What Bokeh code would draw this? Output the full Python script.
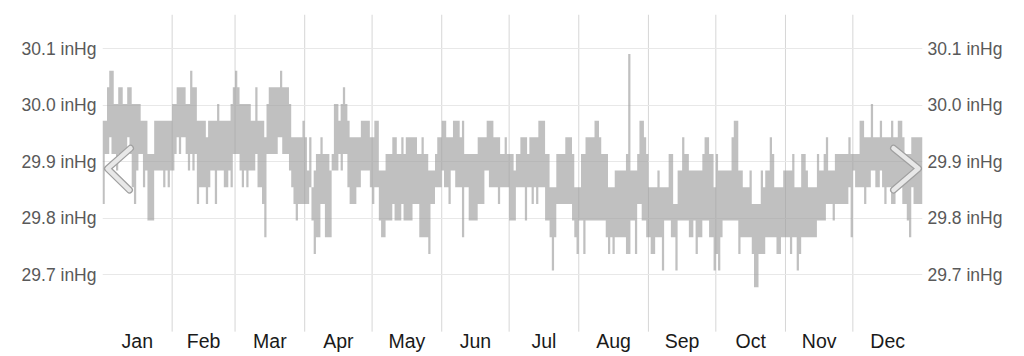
from bokeh.plotting import figure
from bokeh.models import Range1d, LinearAxis, FixedTicker, PrintfTickFormatter
from bokeh.embed import file_html
from bokeh.resources import INLINE
from bokeh.core.properties import value

# ---- data (daily pressure range in hPa levels) ----
months = ["Jan", "Feb", "Mar", "Apr", "May", "Jun",
          "Jul", "Aug", "Sep", "Oct", "Nov", "Dec"]
month_days = [31, 28, 31, 30, 31, 30, 31, 31, 30, 31, 30, 31]

high_hpa = [
    1015, 1015, 1017, 1018, 1018, 1016, 1016, 1017, 1017, 1016,
    1016, 1017, 1017, 1016, 1016, 1016, 1016, 1015, 1015, 1015,
    1013, 1013, 1013, 1015, 1015, 1015, 1015, 1015, 1015, 1015,
    1015, 1016, 1016, 1017, 1017, 1017, 1017, 1016, 1016, 1018,
    1017, 1017, 1015, 1015, 1015, 1015, 1014, 1015, 1015, 1015,
    1015, 1016, 1015, 1015, 1015, 1015, 1015, 1016, 1017, 1018,
    1017, 1016, 1016, 1016, 1016, 1016, 1015, 1015, 1017, 1015,
    1015, 1015, 1014, 1016, 1017, 1017, 1017, 1017, 1017, 1018,
    1017, 1017, 1017, 1016, 1014, 1014, 1014, 1014, 1014, 1015,
    1014, 1012, 1014, 1011, 1012, 1013, 1013, 1014, 1013, 1013,
    1013, 1012, 1013, 1016, 1016, 1015, 1016, 1017, 1016, 1015,
    1014, 1014, 1014, 1014, 1014, 1015, 1015, 1015, 1015, 1014,
    1014, 1015, 1015, 1012, 1012, 1012, 1013, 1013, 1013, 1014,
    1014, 1013, 1013, 1014, 1013, 1014, 1014, 1014, 1014, 1014,
    1013, 1013, 1014, 1013, 1013, 1012, 1012, 1012, 1013, 1014,
    1014, 1015, 1015, 1014, 1014, 1014, 1015, 1015, 1015, 1014,
    1015, 1013, 1013, 1013, 1013, 1013, 1013, 1014, 1014, 1014,
    1014, 1015, 1015, 1015, 1014, 1014, 1014, 1013, 1013, 1014,
    1013, 1013, 1013, 1012, 1013, 1013, 1014, 1014, 1014, 1013,
    1014, 1014, 1014, 1014, 1015, 1015, 1015, 1013, 1013, 1011,
    1011, 1011, 1013, 1013, 1013, 1013, 1014, 1014, 1014, 1013,
    1011, 1011, 1011, 1013, 1013, 1014, 1014, 1014, 1014, 1015,
    1015, 1014, 1013, 1013, 1013, 1011, 1011, 1011, 1012, 1012,
    1012, 1012, 1012, 1013, 1019, 1012, 1012, 1012, 1013, 1015,
    1015, 1014, 1013, 1011, 1011, 1011, 1011, 1012, 1011, 1011,
    1011, 1011, 1013, 1013, 1010, 1010, 1012, 1012, 1014, 1013,
    1013, 1012, 1012, 1012, 1012, 1012, 1012, 1013, 1014, 1014,
    1013, 1013, 1011, 1013, 1012, 1012, 1012, 1012, 1012, 1012,
    1014, 1015, 1015, 1012, 1012, 1011, 1011, 1011, 1012, 1010,
    1010, 1010, 1010, 1012, 1011, 1012, 1012, 1014, 1013, 1011,
    1011, 1011, 1011, 1012, 1012, 1012, 1012, 1013, 1011, 1011,
    1011, 1013, 1013, 1012, 1011, 1011, 1011, 1011, 1013, 1012,
    1012, 1013, 1014, 1012, 1012, 1012, 1013, 1013, 1013, 1013,
    1013, 1013, 1014, 1013, 1013, 1013, 1013, 1015, 1015, 1014,
    1014, 1014, 1016, 1014, 1014, 1014, 1015, 1014, 1014, 1014,
    1014, 1015, 1014, 1014, 1015, 1015, 1014, 1013, 1013, 1013,
    1014, 1014, 1014, 1014, 1014,
]

low_hpa = [
    1010, 1013, 1013, 1014, 1013, 1013, 1012, 1013, 1013, 1013,
    1013, 1014, 1013, 1011, 1010, 1012, 1013, 1013, 1011, 1012,
    1009, 1009, 1009, 1012, 1012, 1012, 1012, 1011, 1012, 1011,
    1012, 1012, 1013, 1014, 1013, 1014, 1014, 1013, 1012, 1013,
    1012, 1013, 1010, 1011, 1011, 1011, 1010, 1011, 1012, 1012,
    1010, 1012, 1012, 1012, 1011, 1011, 1012, 1011, 1013, 1013,
    1013, 1012, 1011, 1012, 1011, 1012, 1012, 1012, 1013, 1011,
    1011, 1010, 1008, 1013, 1013, 1013, 1013, 1013, 1014, 1014,
    1013, 1013, 1013, 1012, 1011, 1010, 1009, 1010, 1010, 1010,
    1010, 1010, 1011, 1009, 1007, 1008, 1008, 1010, 1010, 1008,
    1008, 1008, 1012, 1012, 1012, 1013, 1012, 1013, 1013, 1011,
    1010, 1010, 1010, 1011, 1011, 1012, 1012, 1012, 1012, 1011,
    1010, 1011, 1011, 1009, 1008, 1008, 1009, 1009, 1009, 1010,
    1009, 1009, 1009, 1010, 1009, 1009, 1009, 1009, 1010, 1010,
    1010, 1008, 1008, 1008, 1008, 1007, 1010, 1010, 1011, 1011,
    1011, 1012, 1011, 1011, 1010, 1012, 1012, 1011, 1011, 1011,
    1008, 1011, 1011, 1009, 1009, 1009, 1009, 1010, 1010, 1010,
    1012, 1012, 1011, 1011, 1011, 1011, 1010, 1011, 1011, 1011,
    1011, 1009, 1009, 1009, 1011, 1011, 1011, 1011, 1009, 1011,
    1011, 1010, 1011, 1010, 1011, 1011, 1011, 1009, 1009, 1008,
    1006, 1008, 1010, 1010, 1010, 1010, 1010, 1010, 1010, 1009,
    1008, 1007, 1009, 1009, 1007, 1009, 1009, 1009, 1009, 1009,
    1009, 1009, 1009, 1009, 1008, 1007, 1008, 1007, 1008, 1008,
    1008, 1008, 1008, 1007, 1007, 1009, 1009, 1007, 1010, 1010,
    1009, 1009, 1008, 1008, 1007, 1007, 1008, 1008, 1008, 1006,
    1009, 1009, 1009, 1008, 1008, 1006, 1009, 1009, 1009, 1009,
    1009, 1008, 1008, 1009, 1007, 1008, 1008, 1009, 1009, 1009,
    1008, 1008, 1006, 1007, 1006, 1008, 1009, 1009, 1009, 1009,
    1009, 1009, 1009, 1007, 1008, 1008, 1008, 1008, 1008, 1007,
    1005, 1005, 1007, 1007, 1007, 1008, 1008, 1008, 1008, 1008,
    1007, 1007, 1008, 1008, 1008, 1008, 1007, 1008, 1008, 1006,
    1007, 1008, 1008, 1008, 1008, 1008, 1008, 1008, 1009, 1009,
    1009, 1009, 1010, 1010, 1010, 1009, 1010, 1010, 1010, 1010,
    1010, 1010, 1011, 1008, 1012, 1011, 1011, 1011, 1011, 1010,
    1011, 1011, 1012, 1012, 1011, 1011, 1012, 1011, 1010, 1011,
    1011, 1010, 1010, 1011, 1011, 1011, 1010, 1010, 1009, 1008,
    1011, 1010, 1010, 1010, 1010,
]

y_ticks = [29.7, 29.8, 29.9, 30.0, 30.1]

# ---- style / layout constants ----
HPA_TO_INHG = 0.0295300
Y_MIN, Y_MAX = 29.555, 30.161
GRID_BOTTOM = 29.599
LABEL_Y = 29.583
FONT = "Liberation Sans"
BAR_COLOR = "#9c9c9c"
BAR_ALPHA = 0.64

n = len(high_hpa)
x_edges = list(range(n + 1))
hi = [h * HPA_TO_INHG for h in high_hpa]
lo = [v * HPA_TO_INHG for v in low_hpa]
hi.append(hi[-1])
lo.append(lo[-1])

bounds = []
acc = 0
for d in month_days[:-1]:
    acc += d
    bounds.append(acc)
centers = []
acc = 0
for d in month_days:
    centers.append(acc + d / 2)
    acc += d

p = figure(width=1024, height=356,
           x_range=Range1d(0, n), y_range=Range1d(Y_MIN, Y_MAX),
           output_backend="svg", toolbar_location=None,
           x_axis_location=None, y_axis_location="left",
           min_border_left=102, min_border_right=102,
           min_border_top=14, min_border_bottom=0)
p.outline_line_color = None
p.background_fill_color = "white"
p.border_fill_color = "white"

for g in p.xgrid:
    g.visible = False
p.ygrid.ticker = FixedTicker(ticks=y_ticks)
p.ygrid.grid_line_color = "#e8e8e8"
p.ygrid.grid_line_width = 1


def style_axis(ax, standoff):
    ax.ticker = FixedTicker(ticks=y_ticks)
    ax.formatter = PrintfTickFormatter(format="%.1f inHg")
    ax.axis_line_color = None
    ax.major_tick_line_color = None
    ax.minor_tick_line_color = None
    ax.major_tick_out = 0
    ax.major_tick_in = 0
    ax.major_label_standoff = standoff
    ax.major_label_text_font = FONT
    ax.major_label_text_font_size = "17.5px"
    ax.major_label_text_color = "#595959"


style_axis(p.yaxis[0], 6)
right_axis = LinearAxis()
style_axis(right_axis, 5)
p.add_layout(right_axis, "right")

# month separators (vertical grid)
p.segment(x0=bounds, y0=[GRID_BOTTOM] * len(bounds), x1=bounds,
          y1=[Y_MAX] * len(bounds), line_color="#d6d6d6", line_width=1,
          level="underlay")

# daily pressure range band
try:
    p.varea_step(x=x_edges, y1=lo, y2=hi, step_mode="after",
                 fill_color=BAR_COLOR, fill_alpha=BAR_ALPHA)
except AttributeError:
    xs, ys = [], []
    for i in range(n):
        xs += [i, i + 1]
        ys += [hi[i], hi[i]]
    for i in range(n - 1, -1, -1):
        xs += [i + 1, i]
        ys += [lo[i], lo[i]]
    p.patch(xs, ys, fill_color=BAR_COLOR, fill_alpha=BAR_ALPHA,
            line_color=None)

# month labels
p.text(x=centers, y=[LABEL_Y] * len(centers), text=months,
       text_align="center", text_baseline="middle",
       text_font=value(FONT), text_font_size="19.5px", text_color="#1a1a1a")

# navigation chevrons (decoration)
chev_left_x = [12.46, 2.23, 12.02]
chev_right_x = [352.1, 363.2, 352.1]
chev_y = [29.924, 29.888, 29.850]
for cx in (chev_left_x, chev_right_x):
    p.line(cx, chev_y, line_color="#a0a0a0", line_width=7,
           line_cap="round", line_join="round")
    p.line(cx, chev_y, line_color="#e8e8e8", line_width=4.5,
           line_cap="round", line_join="round")

open("out.html", "w").write(file_html(p, INLINE))
